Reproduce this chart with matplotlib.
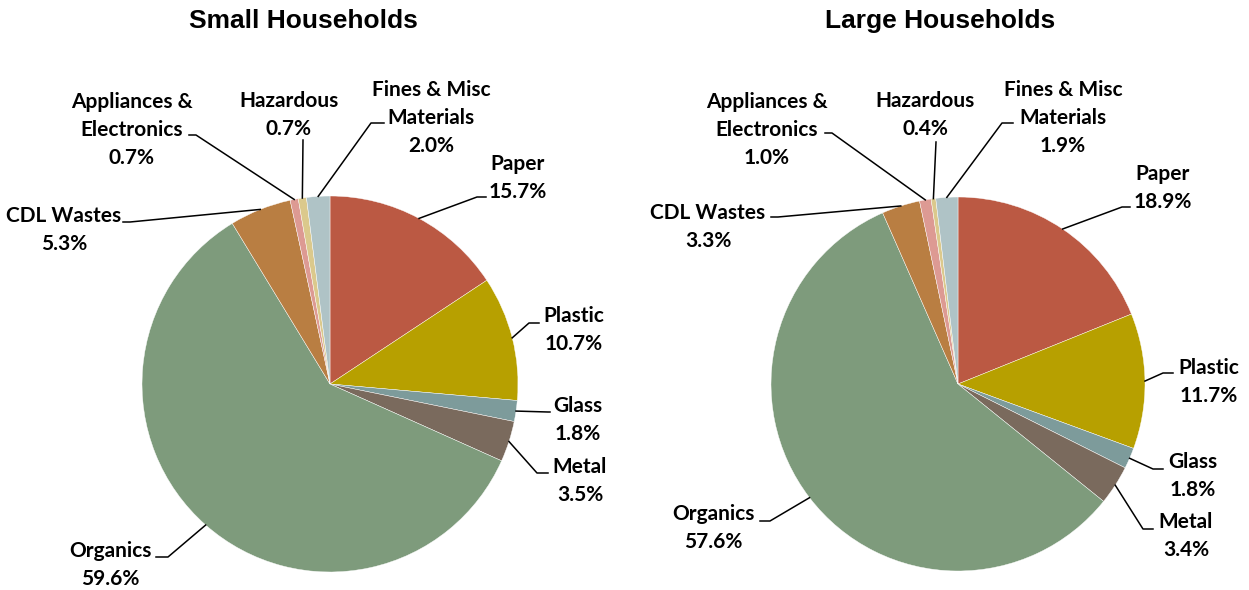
import numpy as np
import matplotlib.pyplot as plt

# waste composition data
categories = ['Paper', 'Plastic', 'Glass', 'Metal', 'Organics', 'CDL Wastes',
              'Appliances &\nElectronics', 'Hazardous', 'Fines & Misc\nMaterials']
small_pct = [15.7, 10.7, 1.8, 3.5, 59.6, 5.3, 0.7, 0.7, 2.0]
large_pct = [18.9, 11.7, 1.8, 3.4, 57.6, 3.3, 1.0, 0.4, 1.9]
titles = ['Small Households', 'Large Households']

colors = ['#BB5943', '#B7A000', '#7D9B9B', '#7A6A5D', '#7E9B7C',
          '#B97E42', '#DD9A93', '#DBC98C', '#AFC3C6']

W, H = 1249, 590

# layout (pixel coords, y from top): pie centre/radius, label centres, leader elbows
pies = [
    dict(center=(330, 384), r=188, title_x=303,
         text=[(518, 178), (574, 330), (578, 420), (580, 481), (110, 565),
               (64, 230), (132, 130), (289, 115), (431, 118)],
         elbow=[[(477, 197), (486, 197)], [(529, 323), (539, 323)],
                [(548, 412), (550, 412)], [(537, 473), (548, 473)],
                [(168, 557), (156, 557)], [(130, 222), (123, 222)],
                [(196, 135), (189, 135)], [(303, 140), (303, 140)],
                [(371, 123), (384, 123)]]),
    dict(center=(958, 384), r=187, title_x=940,
         text=[(1163, 188), (1209, 382), (1193, 476), (1186, 536), (713, 528),
               (708, 227), (767, 130), (925, 115), (1063, 118)],
         elbow=[[(1122, 207), (1130, 207)], [(1163, 373), (1173, 373)],
                [(1153, 469), (1163, 469)], [(1143, 529), (1153, 529)],
                [(770, 521), (760, 521)], [(778, 217), (771, 217)],
                [(832, 133), (825, 133)], [(936, 142), (936, 142)],
                [(1002, 123), (1013, 123)]]),
]

fig = plt.figure(figsize=(W / 100, H / 100), dpi=100)
ax = fig.add_axes([0, 0, 1, 1])

for lay, vals, title in zip(pies, [small_pct, large_pct], titles):
    cx, cy = lay['center']
    r = lay['r']
    wedges, _ = ax.pie(vals, colors=colors, startangle=90, counterclock=False,
                       center=(cx, H - cy), radius=r,
                       wedgeprops=dict(edgecolor='white', linewidth=0.3))
    for i, w in enumerate(wedges):
        ang = np.deg2rad((w.theta1 + w.theta2) / 2)
        sx = cx + r * np.cos(ang)
        sy = (H - cy) + r * np.sin(ang)
        pts = [(sx, sy)] + [(x, H - y) for x, y in lay['elbow'][i]]
        ax.plot([p[0] for p in pts], [p[1] for p in pts], color='black', lw=1.1)
        tx, ty = lay['text'][i]
        ax.text(tx, H - ty, f"{categories[i]}\n{vals[i]:.1f}%", ha='center', va='center',
                fontsize=15, fontweight='bold', family='Lato', linespacing=1.5)
    ax.text(lay['title_x'], H - 21, title, ha='center', va='center',
            fontsize=19, fontweight='bold', family='Liberation Sans')

ax.set_xlim(0, W)
ax.set_ylim(0, H)
ax.set_aspect('auto')
ax.axis('off')
fig.savefig('out.png', dpi=100)
